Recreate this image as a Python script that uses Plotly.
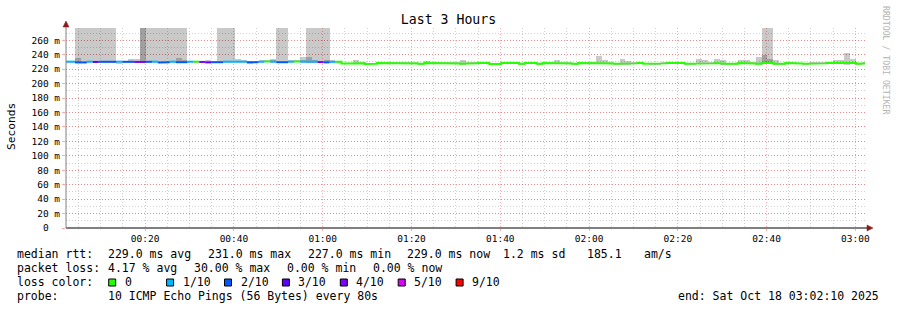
import plotly.graph_objects as go
import pandas as pd

# ---------------- data ----------------
BIN_START = "2025-10-18 00:01:32"   # start of first 80 s step
STEP_SECONDS = 80
X_START = "2025-10-18 00:02:10"
X_END = "2025-10-18 03:02:10"

median_ms = [
    230.4, 230.4, 229.3, 229.3, 230.4, 230.0, 230.2, 230.2, 230.2, 230.4,
    230.2, 230.2, 230.0, 230.0, 230.2, 230.4, 229.3, 229.6, 230.4, 229.6,
    229.6, 230.4, 230.4, 230.0, 229.4, 229.6, 229.6, 230.4, 230.4, 230.4,
    230.4, 229.4, 229.6, 230.4, 230.6, 230.4, 229.6, 229.6, 230.4, 230.6,
    230.4, 230.4, 230.4, 229.8, 229.4, 230.2, 230.4,
    227.7, 227.7, 228.6, 228.0, 227.3, 227.4, 228.6, 228.6, 228.0, 228.0,
    228.6, 228.0, 228.0, 227.4, 228.6, 228.0, 228.0, 228.0, 228.6, 228.0,
    227.5, 228.2, 228.2, 228.6, 228.6, 227.3, 227.3, 228.6, 228.6, 228.6,
    227.4, 228.5, 228.5, 227.4, 228.6, 228.0, 228.4, 228.4, 228.0, 227.4,
    228.6, 228.0, 228.0, 228.2, 228.0, 228.0, 227.4, 227.4, 227.4, 228.0,
    228.6, 227.4, 227.4, 227.4, 228.0, 228.6, 228.6, 228.6, 227.4, 227.4,
    228.2, 228.2, 228.0, 228.6, 227.6, 227.4, 227.4, 228.6, 228.6, 228.0,
    227.4, 228.6, 228.6, 227.4, 227.4, 228.6, 228.6, 227.8, 227.4, 228.0,
    228.0, 228.0, 228.6, 228.0, 228.0, 228.6, 228.6, 227.4, 228.0,
]

loss_level = [
    1, 1, 2, 2, 1, 3, 2, 2, 2, 1,
    2, 2, 4, 4, 2, 1, 2, 2, 1, 2,
    2, 1, 0, 4, 3, 2, 2, 1, 1, 1,
    1, 2, 2, 1, 0, 1, 2, 2, 1, 0,
    1, 1, 1, 4, 2, 1, 0,
    0, 0, 0, 0, 0, 0, 0, 0, 0, 0,
    0, 0, 0, 0, 0, 0, 0, 0, 0, 0,
    0, 0, 0, 0, 0, 0, 0, 0, 0, 0,
    0, 0, 0, 0, 0, 0, 0, 0, 0, 0,
    0, 0, 0, 0, 0, 0, 0, 0, 0, 0,
    0, 0, 0, 0, 0, 0, 0, 0, 0, 0,
    0, 0, 0, 0, 0, 0, 0, 0, 0, 0,
    0, 0, 0, 0, 0, 0, 0, 0, 0, 0,
    0, 0, 0, 0, 0, 0, 0, 0, 0,
]

smoke_max = [
    231.5, 231.8, 300, 300, 300, 300, 300, 300, 300, 231.5,
    231.5, 234.0, 234.0, 300, 300, 300, 300, 300, 300, 300,
    300, 231.5, 231.5, 231.2, 232.5, 231.0, 300, 300, 300, 234.0,
    233.0, 231.0, 231.5, 233.0, 233.0, 234.5, 300, 300, 232.0, 232.0,
    237.0, 300, 300, 300, 300, 233.0, 231.5,
    229.0, 229.0, 233.0, 229.5, 228.8, 229.0, 229.8, 229.8, 229.5, 229.5,
    230.0, 229.5, 229.5, 229.0, 231.5, 229.5, 229.5, 229.5, 230.0, 229.5,
    232.0, 229.5, 229.5, 230.0, 230.0, 228.8, 228.8, 230.0, 230.0, 230.0,
    229.0, 230.0, 230.0, 229.0, 230.0, 229.5, 232.0, 230.0, 229.5, 229.0,
    230.0, 229.5, 229.5, 238.0, 232.0, 229.5, 229.0, 233.5, 231.5, 229.5,
    230.0, 229.0, 229.0, 229.0, 229.5, 230.0, 230.0, 230.0, 229.0, 229.0,
    234.5, 232.5, 229.5, 233.5, 232.0, 229.0, 229.0, 232.0, 232.0, 229.5,
    237.0, 300, 300, 233.0, 229.0, 230.0, 230.0, 229.2, 229.0, 229.5,
    229.5, 229.5, 230.0, 232.0, 232.5, 243.0, 233.5, 229.0, 229.5,
]

smoke_min = [
    229.2, 229.2, 228.8, 228.8, 229.2, 228.8, 229.0, 229.0, 229.0, 227.0,
    229.0, 229.0, 228.8, 228.8, 229.0, 229.2, 228.1, 228.4, 229.2, 228.4,
    228.4, 229.2, 229.2, 228.8, 228.2, 228.4, 228.4, 229.2, 229.2, 229.2,
    229.2, 227.5, 228.4, 229.2, 229.4, 229.2, 228.4, 228.4, 229.2, 229.4,
    229.2, 229.2, 229.2, 228.6, 228.2, 229.0, 229.2,
    226.5, 226.5, 227.4, 226.8, 226.1, 226.5, 227.4, 227.4, 226.8, 226.8,
    227.4, 226.8, 226.8, 226.2, 227.4, 226.8, 226.8, 226.8, 227.4, 226.8,
    226.3, 227.0, 227.0, 227.4, 227.4, 226.1, 226.1, 227.4, 226.8, 227.4,
    226.2, 227.3, 227.3, 226.2, 227.4, 226.8, 227.2, 227.2, 226.5, 226.2,
    227.4, 226.8, 226.8, 227.0, 226.8, 226.8, 226.2, 226.2, 226.2, 226.8,
    227.4, 226.5, 226.2, 226.2, 226.8, 227.4, 226.8, 227.4, 226.2, 226.2,
    227.0, 227.0, 226.5, 227.4, 226.4, 226.2, 226.2, 227.4, 227.4, 226.8,
    226.2, 227.4, 227.4, 226.2, 226.2, 227.4, 227.4, 226.5, 226.2, 226.8,
    226.8, 226.5, 227.4, 226.8, 226.8, 227.4, 227.4, 226.2, 226.5,
]

core_bins = [2, 13, 19, 20, 35, 40, 41, 42, 44, 47, 50, 72, 78, 86, 92, 105, 118, 119, 132, 134]
core_lo = [229.0, 229.0, 229.0, 229.0, 229.5, 229.5, 229.0, 229.0, 229.0, 226.8,
           226.8, 226.5, 226.8, 226.5, 226.8, 226.5, 229.0, 229.0, 226.0, 226.5]
core_hi = [235.0, 300.0, 235.0, 233.0, 232.5, 233.0, 237.0, 233.0, 232.0, 229.0,
           229.0, 228.5, 229.0, 228.5, 229.0, 228.5, 239.5, 234.5, 229.0, 228.5]

loss_keys = [0, 1, 2, 3, 4, 5, 9]
loss_labels = ["0", "1/10", "2/10", "3/10", "4/10", "5/10", "9/10"]
loss_colors = ["#26ff00", "#00b8ff", "#0059ff", "#5e00ff", "#7e00ff", "#dd00ff", "#ff0000"]

y_tickvals = [0, 20, 40, 60, 80, 100, 120, 140, 160, 180, 200, 220, 240, 260]
y_ticktext = ["0\u00a0\u00a0", "20 m", "40 m", "60 m", "80 m", "100 m", "120 m", "140 m",
              "160 m", "180 m", "200 m", "220 m", "240 m", "260 m"]
Y_MAX = 277

stats_lines = [
    ["median rtt:", "229.0 ms avg", "231.0 ms max", "227.0 ms min", "229.0 ms now", "1.2 ms sd", "185.1", "am/s"],
    ["packet loss:", "4.17 % avg", "30.00 % max", "0.00 % min", "0.00 % now"],
    ["loss color:"],
    ["probe:", "10 ICMP Echo Pings (56 Bytes) every 80s"],
]
end_text = "end: Sat Oct 18 03:02:10 2025"
title_text = "Last 3 Hours"
y_title = "Seconds"
watermark = "RRDTOOL / TOBI OETIKER"

assert len(median_ms) == len(loss_level) == len(smoke_max) == len(smoke_min)

# ---------------- layout geometry (pixels) ----------------
W, H = 897, 310
L, R, T, B = 66, 32, 28, 82
PW, PH = W - L - R, H - T - B
MONO = "DejaVu Sans Mono"


def px(x):
    return (x - L) / PW


def py(y):
    return (T + PH - y) / PH


N = len(median_ms)
starts = pd.date_range(BIN_START, periods=N, freq=f"{STEP_SECONDS}s")
ends = starts + pd.Timedelta(seconds=STEP_SECONDS)
centers = starts + pd.Timedelta(seconds=STEP_SECONDS / 2)
bar_w = STEP_SECONDS * 1000

fig = go.Figure()

# smoke (outer)
fig.add_trace(go.Bar(
    x=centers, y=[hi - lo for hi, lo in zip(smoke_max, smoke_min)], base=smoke_min,
    width=bar_w, marker=dict(color="rgba(0,0,0,0.21)", line=dict(width=0)),
    hoverinfo="skip", showlegend=False))
# smoke (core)
fig.add_trace(go.Bar(
    x=[centers[i] for i in core_bins], y=[hi - lo for hi, lo in zip(core_hi, core_lo)], base=core_lo,
    width=bar_w, marker=dict(color="rgba(0,0,0,0.2)", line=dict(width=0)),
    hoverinfo="skip", showlegend=False))

# median line coloured by loss
for key, col in zip(loss_keys, loss_colors):
    xs, ys = [], []
    for n in range(N):
        if loss_level[n] != key:
            continue
        if n > 0 and loss_level[n - 1] != key and xs:
            xs.append(None)
            ys.append(None)
        xs += [starts[n], ends[n]]
        ys += [median_ms[n], median_ms[n]]
    if xs:
        fig.add_trace(go.Scatter(x=xs, y=ys, mode="lines", line=dict(color=col, width=2),
                                 connectgaps=False, hoverinfo="skip", showlegend=False))

MAJ = "rgba(255,0,0,0.33)"
MIN = "rgba(150,150,150,0.45)"

fig.update_layout(
    width=W, height=H, margin=dict(l=L, r=R, t=T, b=B, pad=0),
    paper_bgcolor="white", plot_bgcolor="white",
    barmode="overlay", bargap=0, showlegend=False,
    font=dict(family=MONO, color="black"),
    title=dict(text=title_text, x=0.5, xref="container", xanchor="center",
               y=1 - 19 / H, yref="container", yanchor="middle",
               font=dict(family=MONO, size=13.2, color="black")),
    xaxis=dict(
        type="date", range=[X_START, X_END], tickformat="%H:%M",
        tick0="2025-10-18 00:00:00", dtick=20 * 60 * 1000,
        showgrid=True, gridcolor=MAJ, griddash="1px,2px", gridwidth=1,
        ticks="outside", ticklen=2, tickcolor=MAJ,
        tickfont=dict(family=MONO, size=9.5, color="black"),
        minor=dict(dtick=5 * 60 * 1000, tick0="2025-10-18 00:00:00", showgrid=True,
                   gridcolor=MIN, griddash="1px,2px", ticks=""),
        showline=False, zeroline=False, fixedrange=True,
    ),
    yaxis=dict(
        range=[0, Y_MAX], tickvals=y_tickvals, ticktext=y_ticktext,
        showgrid=True, gridcolor=MAJ, griddash="1px,2px", gridwidth=1,
        ticks="outside", ticklen=3, tickcolor=MAJ,
        tickfont=dict(family=MONO, size=9.5, color="black"),
        minor=dict(dtick=10, tick0=0, showgrid=True, gridcolor=MIN, griddash="1px,2px", ticks=""),
        showline=False, zeroline=False, fixedrange=True,
    ),
)

shapes = []
# axes with arrows
shapes.append(dict(type="line", xref="paper", yref="paper", x0=px(66), x1=px(868), y0=py(228), y1=py(228),
                   line=dict(color="black", width=1)))
shapes.append(dict(type="line", xref="paper", yref="paper", x0=px(66), x1=px(66), y0=py(228), y1=py(25),
                   line=dict(color="#808080", width=1)))
ARROW = "#8b1a1a"
shapes.append(dict(type="path", xref="paper", yref="paper",
                   path=f"M {px(867)},{py(225)} L {px(873)},{py(228)} L {px(867)},{py(231)} Z",
                   fillcolor=ARROW, line=dict(color=ARROW, width=0.5)))
shapes.append(dict(type="path", xref="paper", yref="paper",
                   path=f"M {px(63)},{py(27)} L {px(66)},{py(21)} L {px(69)},{py(27)} Z",
                   fillcolor=ARROW, line=dict(color=ARROW, width=0.5)))

annotations = []
FS = 11.5
line_y = [254.3, 268.3, 282.3, 296.3]
line_x = [
    [16, 107.3, 207.3, 307.3, 406, 501.7, 586, 642.7],
    [16, 107.3, 193.3, 286, 371.7],
    [16],
    [16, 107.3],
]
for chunks, xs_, yy in zip(stats_lines, line_x, line_y):
    for txt, xx in zip(chunks, xs_):
        annotations.append(dict(text=txt, x=px(xx), y=py(yy), xref="paper", yref="paper",
                                xanchor="left", yanchor="middle", showarrow=False, borderpad=0,
                                font=dict(family=MONO, size=FS, color="black")))
annotations.append(dict(text=end_text, x=px(880), y=py(296.3), xref="paper", yref="paper",
                        xanchor="right", yanchor="middle", showarrow=False, borderpad=0,
                        font=dict(family=MONO, size=FS, color="black")))

# loss colour legend
box_x0 = 108.7
box_step = 57.9
for i, (lab, col) in enumerate(zip(loss_labels, loss_colors)):
    bx = box_x0 + i * box_step
    shapes.append(dict(type="rect", xref="paper", yref="paper",
                       x0=px(bx), x1=px(bx + 7), y0=py(279), y1=py(286),
                       fillcolor=col, line=dict(color="black", width=1)))
    annotations.append(dict(text=lab, x=px(bx + 15), y=py(282.3), xref="paper", yref="paper",
                            xanchor="left", yanchor="middle", showarrow=False, borderpad=0,
                            font=dict(family=MONO, size=FS, color="black")))

annotations.append(dict(text=y_title, x=px(11), y=py(126), xref="paper", yref="paper",
                        textangle=-90, xanchor="center", yanchor="middle", showarrow=False,
                        font=dict(family=MONO, size=11.2, color="black")))
annotations.append(dict(text=watermark, x=px(886), y=py(60), xref="paper", yref="paper",
                        textangle=90, xanchor="center", yanchor="middle", showarrow=False,
                        font=dict(family=MONO, size=8.2, color="#b4b4b4")))

fig.update_layout(shapes=shapes, annotations=annotations)
fig.write_html("out.html")
